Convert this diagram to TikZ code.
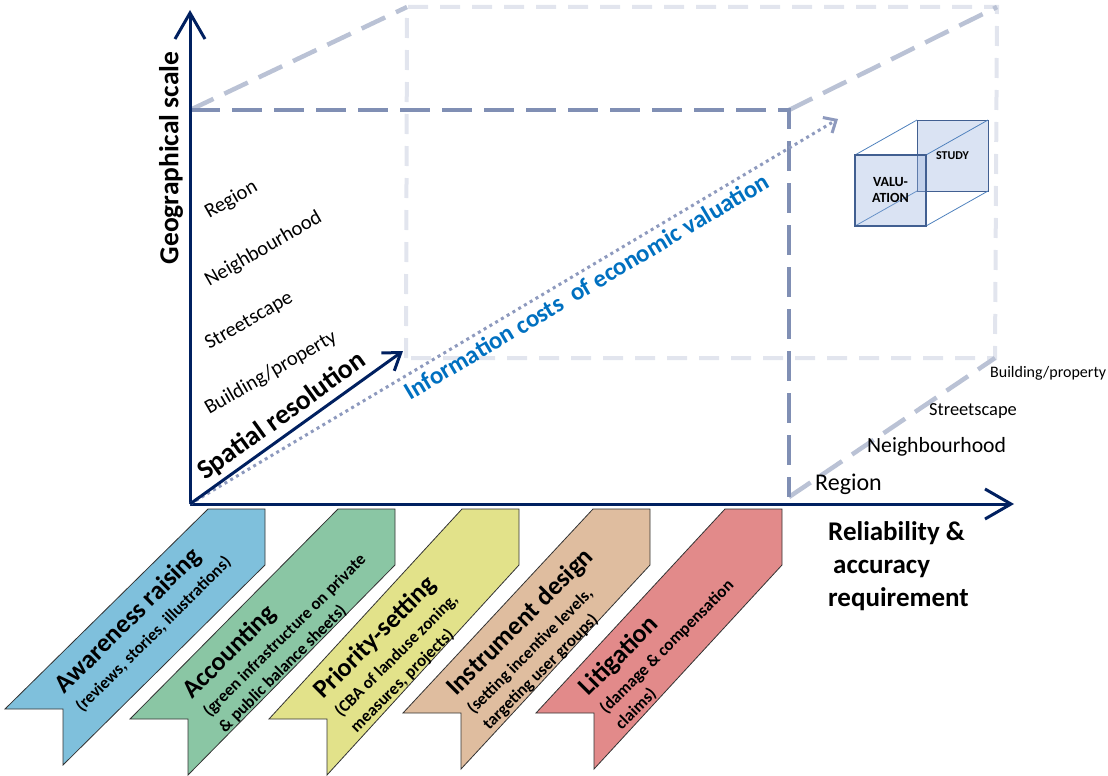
\documentclass[tikz,border=0pt]{standalone}
\usepackage{fontspec}
\setmainfont{Carlito}
\usetikzlibrary{arrows.meta}

\definecolor{axisnavy}{RGB}{0,32,96}
\definecolor{dashfront}{RGB}{128,143,180}
\definecolor{dashmid}{RGB}{186,194,213}
\definecolor{dashback}{RGB}{226,229,238}
\definecolor{dotblue}{RGB}{142,154,190}
\definecolor{infoblue}{RGB}{0,112,192}
\definecolor{cubeedge}{RGB}{65,95,145}
\definecolor{cubeline}{RGB}{79,129,189}
\definecolor{cubefill}{RGB}{150,176,220}
\definecolor{ribblue}{RGB}{127,192,220}
\definecolor{ribgreen}{RGB}{138,198,164}
\definecolor{ribyellow}{RGB}{226,226,138}
\definecolor{ribpeach}{RGB}{223,189,159}
\definecolor{ribred}{RGB}{226,138,138}

\begin{document}
\begin{tikzpicture}
	[%
	x=1pt, y=-1pt,%
	axis/.style     ={draw=axisnavy,	line width=3pt,	-{Straight Barb[length=26pt, width=30pt]}},%
	spatial/.style  ={draw=axisnavy,	line width=3pt,	-{Straight Barb[length=16pt, width=22pt]}},%
	infoline/.style ={draw=dotblue,	line width=3pt,	dash pattern=on 3pt off 3.7pt,	-{Straight Barb[length=10pt, width=18pt]}},%
	frontdash/.style={draw=dashfront,	line width=4.5pt,	dash pattern=on 30pt off 12pt},%
	middash/.style  ={draw=dashmid,	line width=4.5pt,	dash pattern=on 26pt off 12pt},%
	backdash/.style ={draw=dashback,	line width=4pt,	dash pattern=on 20pt off 12pt},%
	ribbon/.style   ={draw=black!80,	line width=0.8pt},%
	ribtext/.style  ={rotate=45,	anchor=north west,	align=left,	inner sep=0pt,	font=\bfseries\fontsize{17}{22}\selectfont},%
	scalelab/.style ={rotate=30,	anchor=south west,	inner sep=0pt,	font=\fontsize{20.5}{24}\selectfont},%
	face/.style     ={draw=cubeedge,	fill=cubefill,	fill opacity=0.35,	text opacity=1,	minimum size=71pt,	inner sep=0pt,	outer sep=0pt,	align=center},%
	]

	\useasboundingbox (0,0) rectangle (1108,776);

	% corners of the box
	\coordinate (O)    at (190,504);
	\coordinate (Ytip) at (190,10);
	\coordinate (Xtip) at (1014,504);
	\coordinate (FTL)  at (190,110);
	\coordinate (FTR)  at (789,110);
	\coordinate (FBR)  at (789,497);
	\coordinate (BTL)  at (407,7);
	\coordinate (BTR)  at (997,7);
	\coordinate (BBR)  at (995,358);
	\coordinate (BBL)  at (406,358);
	\coordinate (Stip) at (403,351);
	\coordinate (Itip) at (838,119);

	% dashed box
	\draw [backdash] (BBL) -- (BTL) -- (BTR) -- (BBR) -- (BBL);
	\draw [middash] (FTL) -- (BTL);
	\draw [middash] (FTR) -- (BTR);
	\draw [middash] (FBR) -- (BBR);
	\draw [frontdash] (FTL) -- (FTR) -- (FBR);

	% axes
	\draw [axis] (O) -- (Ytip);
	\draw [axis] (O) -- (Xtip);
	\draw [infoline] (O) -- (Itip)
		node [pos=0.6, sloped, below, inner sep=5pt, text=infoblue, font=\bfseries\fontsize{24.8}{27}\selectfont] (infolab) {Information costs\ \ of economic valuation};
	\draw [spatial] (O) -- (Stip)
		node [pos=0.48, sloped, above, inner sep=4pt, font=\bfseries\fontsize{27.5}{30}\selectfont] (spatlab) {Spatial resolution};

	% axis labels
	\node [rotate=90, font=\bfseries\fontsize{27.5}{30}\selectfont] (ylab) at (171,158) {Geographical scale};
	\node [anchor=north west, align=left, inner sep=0pt, font=\bfseries\fontsize{27}{33}\selectfont] (xlab) at (828,521) {Reliability \&\\\hspace*{5pt}accuracy\\requirement};

	% scale labels
	\foreach \nm/\y/\txt in {lreg/222/Region, lnbh/290/Neighbourhood, lstr/353/Streetscape, lbld/418/{Building/property}}
		\node [scalelab] (\nm) at (211,\y) {\txt};

	\foreach \nm/\x/\y/\fs/\txt in {rreg/815/484/24/Region, rnbh/867/447/21.7/Neighbourhood, rstr/929/411/18.4/Streetscape, rbld/990/373/16/{Building/property}}
		\node [anchor=west, inner sep=0pt, font=\fontsize{\fs}{\fs}\selectfont] (\nm) at (\x,\y) {\txt};

	% cube
	\node [face, line width=0.8pt, font=\bfseries\fontsize{12}{14}\selectfont] (study) at (952.5,155.5) {STUDY};
	\foreach \c in {north west, north east, south west, south east}
		\draw [cubeline, line width=0.8pt] (study.\c) -- ++(-62,35);
	\node [face, line width=2.5pt, font=\bfseries\fontsize{14}{16}\selectfont] (valu) at (890.5,190.5) {VALU-\\ATION};

	% ribbons
	\foreach \a/\l/\n/\col/\txt [count=\k] in {%
		208/5/709/ribblue/{{\fontsize{26}{28}\selectfont Awareness raising}\\[3pt](reviews, stories, illustrations)},%
		338/130/719/ribgreen/{{\fontsize{26}{28}\selectfont Accounting}\\[3pt](green infrastructure on private\\\& public balance sheets)},%
		462/269/719/ribyellow/{{\fontsize{26}{28}\selectfont Priority-setting}\\[3pt](CBA of landuse zoning,\\measures, projects)},%
		593/403/713/ribpeach/{{\fontsize{26}{28}\selectfont Instrument design}\\[3pt](setting incentive levels,\\targeting user groups)},%
		725/536/713/ribred/{{\fontsize{26}{28}\selectfont Litigation}\\[3pt](damage \& compensation\\claims)}%
		}
	{
		\draw [ribbon, fill=\col] (\a,509) -- (\a+57,509) -- (\a+57,565) -- (\l+58,\n+56) -- (\l+58,\n) -- (\l,\n) -- cycle;
		\node [ribtext] (rib\k) at ({(\a+\l)/2-55}, {(565+\n)/2+45}) {\txt};
	}

\end{tikzpicture}
\end{document}
